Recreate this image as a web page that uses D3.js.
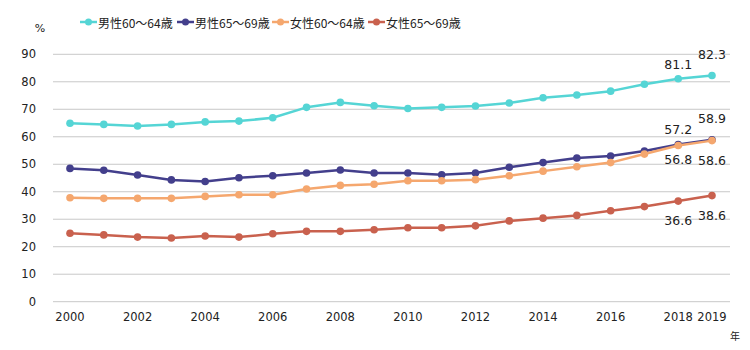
<!DOCTYPE html>
<html>
<head>
<meta charset="utf-8">
<script src="https://cdn.jsdelivr.net/npm/d3@7"></script>
<style>
  body { margin: 0; background: #fff; }
  svg text { font-family: "DejaVu Sans", "Noto Sans CJK JP", sans-serif; fill: #222; }
</style>
</head>
<body>
<div id="chart"></div>
<script>
// --- Données ---
const years = [2000, 2001, 2002, 2003, 2004, 2005, 2006, 2007, 2008, 2009,
               2010, 2011, 2012, 2013, 2014, 2015, 2016, 2017, 2018, 2019];
const xTickYears = [2000, 2002, 2004, 2006, 2008, 2010, 2012, 2014, 2016, 2018, 2019];
const yTicks = [0, 10, 20, 30, 40, 50, 60, 70, 80, 90];

const seriesNames = ["男性60～64歳", "男性65～69歳", "女性60～64歳", "女性65～69歳"];
const male6064 = [64.9, 64.5, 63.9, 64.5, 65.4, 65.7, 66.9, 70.7, 72.5, 71.3,
                  70.3, 70.7, 71.2, 72.3, 74.2, 75.2, 76.6, 79.1, 81.1, 82.3];
const male6569 = [48.5, 47.8, 46.1, 44.3, 43.7, 45.1, 45.8, 46.8, 47.9, 46.8,
                  46.8, 46.2, 46.8, 48.9, 50.6, 52.3, 53.0, 54.8, 57.2, 58.9];
const female6064 = [37.8, 37.6, 37.6, 37.6, 38.3, 38.9, 38.9, 41.0, 42.3, 42.7,
                    44.0, 44.0, 44.4, 45.8, 47.5, 49.1, 50.6, 53.7, 56.8, 58.6];
const female6569 = [24.9, 24.3, 23.5, 23.2, 23.9, 23.5, 24.7, 25.6, 25.6, 26.2,
                    26.9, 26.9, 27.6, 29.4, 30.4, 31.4, 33.1, 34.6, 36.6, 38.6];
const seriesValues = [male6064, male6569, female6064, female6569];
const labelYears = [2018, 2019];

// --- Style ---
const colors = ["#55d5d5", "#433f8c", "#f5a76e", "#c9614e"];
// décalage vertical des étiquettes (2018, 2019) par série
const labelDy = [[-14, -21], [-15, -21], [14, 20], [19, 20]];

const W = 750, H = 350;
const svg = d3.select("#chart").append("svg")
  .attr("width", W).attr("height", H);

const x = d3.scaleLinear().domain([2000, 2019]).range([70, 712]);
const y = d3.scaleLinear().domain([0, 90]).range([301.7, 54.3]);

// Grille
svg.append("g")
  .selectAll("line")
  .data(yTicks)
  .join("line")
  .attr("x1", 53).attr("x2", 730)
  .attr("y1", d => y(d)).attr("y2", d => y(d))
  .attr("stroke", "#c8c8c8").attr("stroke-width", 1);

// Axe Y
svg.append("g")
  .selectAll("text")
  .data(yTicks)
  .join("text")
  .attr("x", 36).attr("y", d => y(d))
  .attr("text-anchor", "end")
  .attr("dominant-baseline", "central")
  .style("font-size", "11.5px")
  .text(d => d);

svg.append("text")
  .attr("x", 40).attr("y", 28)
  .attr("text-anchor", "middle")
  .attr("dominant-baseline", "central")
  .style("font-size", "11px")
  .text("%");

// Axe X
svg.append("g")
  .selectAll("text")
  .data(xTickYears)
  .join("text")
  .attr("x", d => x(d)).attr("y", 317)
  .attr("text-anchor", "middle")
  .attr("dominant-baseline", "central")
  .style("font-size", "11.5px")
  .text(d => d);

svg.append("text")
  .attr("x", 735).attr("y", 335)
  .attr("text-anchor", "middle")
  .attr("dominant-baseline", "central")
  .style("font-size", "10px")
  .style("font-family", "Noto Sans CJK JP")
  .text("年");

// Lignes
const line = d3.line()
  .x((d, i) => x(years[i]))
  .y(d => y(d));

seriesValues.forEach((vals, s) => {
  const g = svg.append("g");
  g.append("path")
    .datum(vals)
    .attr("d", line)
    .attr("fill", "none")
    .attr("stroke", colors[s])
    .attr("stroke-width", 2.5)
    .attr("stroke-linejoin", "round");

  g.selectAll("circle")
    .data(vals)
    .join("circle")
    .attr("cx", (d, i) => x(years[i]))
    .attr("cy", d => y(d))
    .attr("r", 3.8)
    .attr("fill", colors[s]);

  // Étiquettes
  labelYears.forEach((yr, k) => {
    const v = vals[years.indexOf(yr)];
    g.append("text")
      .attr("x", x(yr))
      .attr("y", y(v) + labelDy[s][k])
      .attr("text-anchor", "middle")
      .attr("dominant-baseline", "central")
      .style("font-size", "12.5px")
      .text(v.toFixed(1));
  });
});

// Légende
const legendX = [80, 177, 272, 368];
const legend = svg.append("g")
  .selectAll("g")
  .data(seriesNames)
  .join("g")
  .attr("transform", (d, i) => `translate(${legendX[i]}, 22)`);

legend.append("line")
  .attr("x1", 0).attr("x2", 17)
  .attr("stroke", (d, i) => colors[i])
  .attr("stroke-width", 2.5);

legend.append("circle")
  .attr("cx", 8.5).attr("r", 3.5)
  .attr("fill", (d, i) => colors[i]);

legend.append("text")
  .attr("x", 18)
  .attr("dominant-baseline", "central")
  .style("font-size", "12px")
  .style("font-family", "Noto Sans CJK JP")
  .text(d => d);
</script>
</body>
</html>
